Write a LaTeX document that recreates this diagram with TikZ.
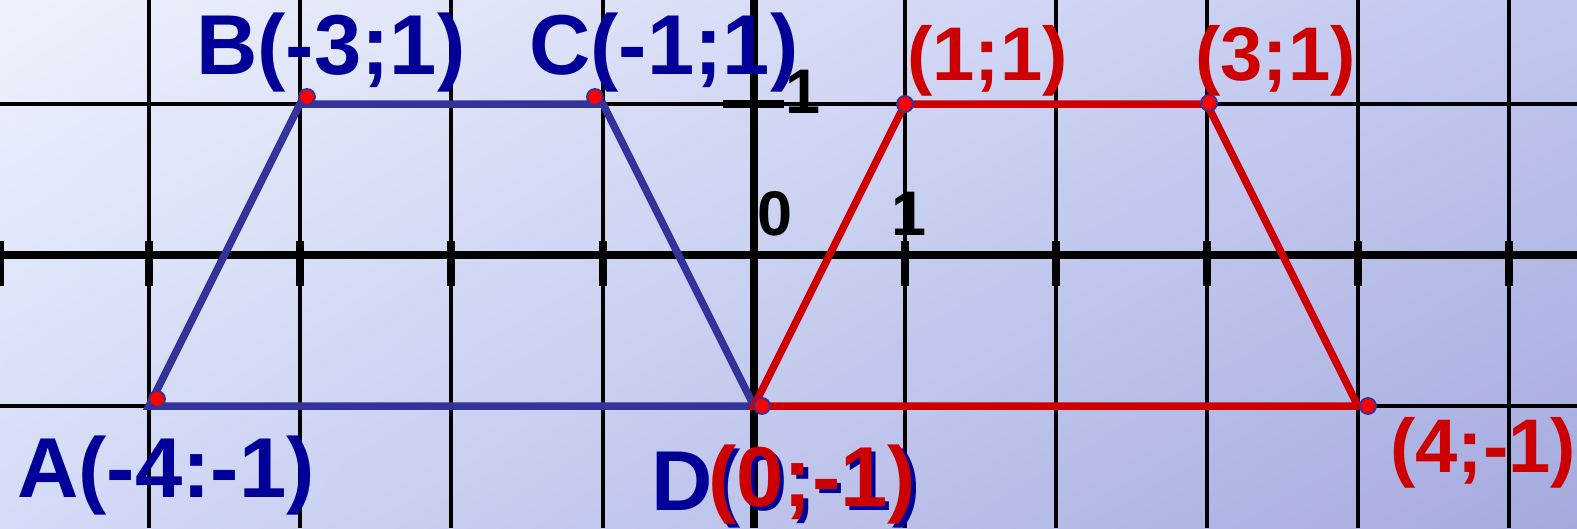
\documentclass[tikz,border=0pt]{standalone}
\usepackage{fontspec}
\setmainfont{Liberation Sans}
\usetikzlibrary{shadings}
\definecolor{lineblue}{HTML}{333399}
\definecolor{textblue}{HTML}{000099}
\definecolor{linered}{HTML}{CC0000}
\definecolor{dotred}{HTML}{FF0000}
\definecolor{bgUL}{HTML}{EEF2FC}
\definecolor{bgUR}{HTML}{C0C7EF}
\definecolor{bgLL}{HTML}{D3DBF7}
\definecolor{bgLR}{HTML}{A5AADE}
\begin{document}
\begin{tikzpicture}[x=1pt,y=-1pt,
  gridline/.style={line width=3.5pt, black},
  axisline/.style={line width=7.5pt, black},
  tickline/.style={line width=8pt, black},
  bshape/.style={line width=7.5pt, lineblue},
  rshape/.style={line width=7.5pt, linered},
  vdot/.style={circle, fill=dotred, draw=lineblue, line width=1.8pt, minimum size=16pt, inner sep=0pt},
  blab/.style={inner sep=0pt, anchor=base west, text=textblue, font=\fontsize{85}{90}\selectfont\bfseries},
  rlab/.style={inner sep=0pt, anchor=base west, text=linered, font=\fontsize{76}{80}\selectfont\bfseries},
  klab/.style={inner sep=0pt, anchor=base west, text=black, font=\fontsize{63}{70}\selectfont\bfseries}]
\useasboundingbox (0,0) rectangle (1577,528);
\shade[upper left=bgUL, upper right=bgUR, lower left=bgLL, lower right=bgLR] (0,0) rectangle (1577,528);
% grid
\foreach \x in {149,300,451,603,905,1056,1207,1358,1509}
  \draw[gridline] (\x,0) -- (\x,528);
\foreach \y in {104,406}
  \draw[gridline] (0,\y) -- (1577,\y);
% axes
\draw[axisline] (0,255) -- (1577,255);
\draw[axisline] (754,0) -- (754,528);
\foreach \x in {0,149,300,451,603,905,1056,1207,1358,1509}
  \draw[tickline] (\x,241) -- (\x,286);
\draw[axisline] (723,104) -- (784,104);
% vertices
\coordinate (A) at (149,406);
\coordinate (B) at (300,104);
\coordinate (C) at (603,104);
\coordinate (D) at (754,406);
\coordinate (E) at (905,104);
\coordinate (F) at (1207,104);
\coordinate (G) at (1358,406);
\draw[bshape] (A) -- (B) -- (C) -- (D) -- cycle;
\draw[rshape] (D) -- (E) -- (F) -- (G) -- cycle;
% dots
\node[vdot] (dA) at (157,399) {};
\node[vdot] (dB) at (307,97) {};
\node[vdot] (dC) at (595,97) {};
\node[vdot] (dD) at (762,406) {};
\node[vdot] (dE) at (905,104) {};
\node[vdot] (dF) at (1209,103) {};
\node[vdot] (dG) at (1368,406) {};
% axis labels
\node[klab] (l0) at (757,235) {0};
\node[klab] (l1x) at (891,235) {1};
\node[klab] (l1y) at (785,113) {1};
% point labels
\node[blab] (tA) at (17,497) {A(-4:-1)};
\node[blab] (tB) at (196,74) {B(-3;1)};
\node[blab] (tC) at (529,74) {C(-1;1)};
\node[blab] (tD) at (651,510) {D(0;-1)};
\node[text=linered, inner sep=0pt, anchor=base west, font=\fontsize{85}{90}\selectfont\bfseries] (tDr) at (708,506) {(0;-1)};
\node[rlab] (tE) at (907,80) {(1;1)};
\node[rlab] (tF) at (1195,80) {(3;1)};
\node[rlab] (tG) at (1390,472) {(4;-1)};
\end{tikzpicture}
\end{document}
